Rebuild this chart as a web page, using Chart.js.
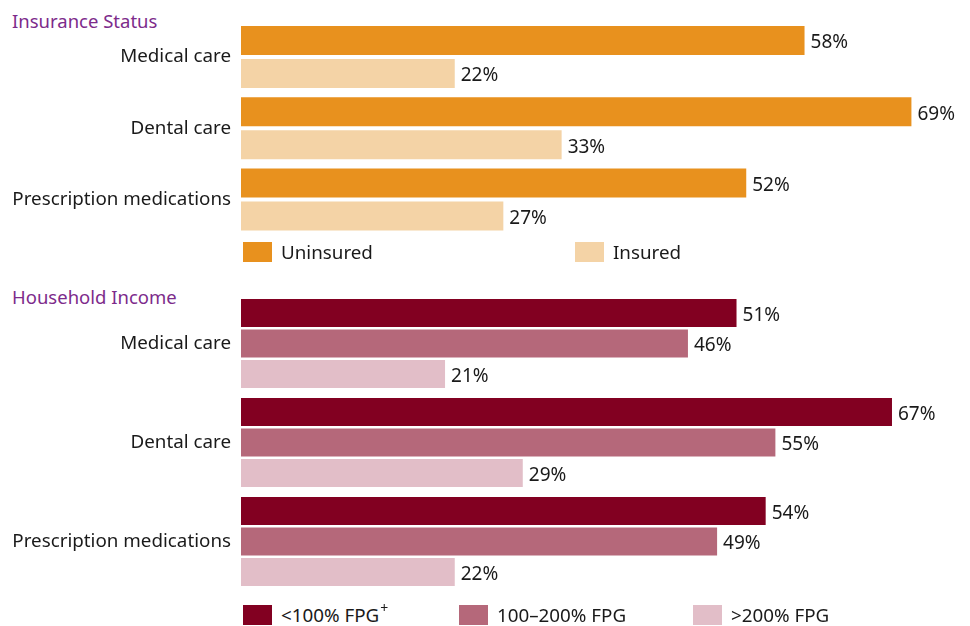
<!DOCTYPE html>
<html lang="en">
<head>
    <meta charset="UTF-8">
    <title>Insurance Status and Household Income</title>
    <script src="https://cdn.jsdelivr.net/npm/chart.js"></script>
    <style>
        body {
            margin: 0;
            width: 970px;
            height: 626px;
            background: #fff;
            position: relative;
            overflow: hidden;
            font-family: "Noto Sans", sans-serif;
            color: #1a1a1a;
        }
        .panel { position: absolute; left: 0; width: 970px; }
        .title {
            position: absolute;
            left: 12px;
            font-size: 18.5px;
            color: #7d2b8b;
        }
        .legend-item {
            position: absolute;
            display: flex;
            align-items: center;
            font-size: 18.8px;
            white-space: nowrap;
        }
        .legend-item span.box { display: inline-block; width: 29px; height: 20px; margin-right: 9px; }
        .legend-item sup { font-size: 14px; position: relative; top: -8px; margin-left: 1px; }
    </style>
</head>
<body>
    <div class="title" style="top: 8px;">Insurance Status</div>
    <div class="panel" style="top: 0; height: 242px;"><canvas id="insChart"></canvas></div>
    <div class="legend-item" style="left: 243px; top: 239px;"><span class="box" style="background:#e8911e"></span>Uninsured</div>
    <div class="legend-item" style="left: 575px; top: 239px;"><span class="box" style="background:#f4d3a6"></span>Insured</div>

    <div class="title" style="top: 284px;">Household Income</div>
    <div class="panel" style="top: 280px; height: 320px;"><canvas id="incChart"></canvas></div>
    <div class="legend-item" style="left: 243px; top: 602px;"><span class="box" style="background:#820021"></span>&lt;100% FPG<sup>+</sup></div>
    <div class="legend-item" style="left: 459px; top: 602px;"><span class="box" style="background:#b5687a"></span>100–200% FPG</div>
    <div class="legend-item" style="left: 693px; top: 602px;"><span class="box" style="background:#e2bec8"></span>&gt;200% FPG</div>

    <script>
        const categories = ['Medical care', 'Dental care', 'Prescription medications'];

        const uninsured = [58, 69, 52];
        const insured = [22, 33, 27];

        const below100 = [51, 67, 54];
        const from100to200 = [46, 55, 49];
        const above200 = [21, 29, 22];

        // writes "58%" etc. just past the end of each bar
        const valueLabels = {
            id: 'valueLabels',
            afterDatasetsDraw(chart) {
                const ctx = chart.ctx;
                ctx.save();
                ctx.font = '19px "Noto Sans", sans-serif';
                ctx.fillStyle = '#1a1a1a';
                ctx.textBaseline = 'middle';
                ctx.textAlign = 'left';
                chart.data.datasets.forEach((ds, i) => {
                    chart.getDatasetMeta(i).data.forEach((bar, j) => {
                        ctx.fillText(ds.data[j] + '%', bar.x + 6, bar.y + 2.5);
                    });
                });
                ctx.restore();
            }
        };

        function makeChart(id, datasets, catPct, barPct, pad) {
            return new Chart(document.getElementById(id), {
                type: 'bar',
                data: { labels: categories, datasets: datasets },
                options: {
                    indexAxis: 'y',
                    responsive: true,
                    maintainAspectRatio: false,
                    animation: false,
                    layout: { padding: { top: pad.top, bottom: pad.bottom, left: 0, right: 10 } },
                    datasets: { bar: { categoryPercentage: catPct, barPercentage: barPct } },
                    plugins: { legend: { display: false }, tooltip: { enabled: false } },
                    scales: {
                        x: { display: false, min: 0, max: 74 },
                        y: {
                            grid: { display: false, drawTicks: false },
                            border: { display: false },
                            ticks: {
                                padding: 10,
                                color: '#1a1a1a',
                                font: { family: '"Noto Sans", sans-serif', size: 18.8 }
                            },
                            afterFit(scale) {
                                scale.width = 241;
                                scale.paddingTop = 0;
                                scale.paddingBottom = 0;
                            }
                        }
                    }
                },
                plugins: [valueLabels]
            });
        }

        makeChart('insChart', [
            { label: 'Uninsured', data: uninsured, backgroundColor: '#e8911e' },
            { label: 'Insured', data: insured, backgroundColor: '#f4d3a6' }
        ], 0.926, 0.88, { top: 21.4, bottom: 7 });

        makeChart('incChart', [
            { label: '<100% FPG+', data: below100, backgroundColor: '#820021' },
            { label: '100–200% FPG', data: from100to200, backgroundColor: '#b5687a' },
            { label: '>200% FPG', data: above200, backgroundColor: '#e2bec8' }
        ], 0.924, 0.918, { top: 14, bottom: 9 });
    </script>
</body>
</html>
